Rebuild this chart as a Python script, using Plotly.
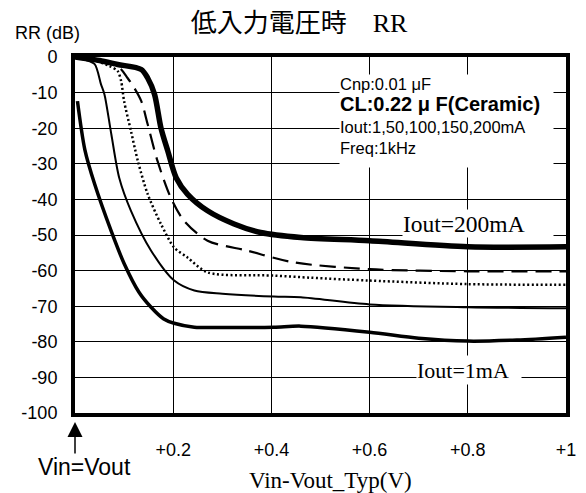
import plotly.graph_objects as go

# ---- data ----
x_1mA = [0.005, 0.02, 0.04, 0.074, 0.1, 0.13, 0.155, 0.18, 0.202, 0.243, 0.3, 0.405, 0.46, 0.6, 0.7, 0.8, 0.9, 1.0]
y_1mA = [-12.4, -26, -35.7, -49, -58, -66, -70.3, -73.5, -74.8, -75.9, -76, -75.9, -75.6, -77.3, -79, -79.8, -79.5, -78.7]

x_50mA = [0, 0.02, 0.04, 0.053, 0.06, 0.074, 0.09, 0.114, 0.155, 0.202, 0.243, 0.3, 0.405, 0.46, 0.6, 0.8, 1.0]
y_50mA = [0, -0.8, -2, -7.7, -10.5, -21.7, -33.9, -43.2, -54.4, -62.8, -65.6, -66.5, -67.3, -67.5, -69.5, -70.3, -70.6]

x_100mA = [0, 0.04, 0.07, 0.087, 0.094, 0.1, 0.114, 0.128, 0.148, 0.175, 0.202, 0.229, 0.27, 0.405, 0.48, 0.6, 0.8, 1.0]
y_100mA = [0, -1, -2.5, -4, -6.8, -12.4, -20.8, -29.2, -38.5, -46.9, -53.5, -56.3, -60.5, -61.4, -62, -62.8, -63.8, -64]

x_150mA = [0, 0.05, 0.09, 0.107, 0.12, 0.135, 0.148, 0.168, 0.195, 0.222, 0.27, 0.351, 0.446, 0.6, 0.8, 1.0]
y_150mA = [0, -1, -3, -5.9, -8.5, -12.4, -18.9, -29.2, -39.5, -46, -51.6, -54.4, -57.7, -59.6, -60.2, -60.2]

x_200mA = [0, 0.05, 0.087, 0.135, 0.148, 0.162, 0.175, 0.189, 0.206, 0.229, 0.27, 0.324, 0.378, 0.46, 0.6, 0.8, 1.0]
y_200mA = [0, -1, -2.1, -3.5, -5.9, -10.5, -19.9, -26.4, -33.9, -38.5, -43.2, -46.9, -49.3, -50.7, -51.6, -53.3, -53.3]

x_tickvals = [0.2, 0.4, 0.6, 0.8, 1.0]
x_ticktext = ["+0.2", "+0.4", "+0.6", "+0.8", "+1"]
y_tickvals = [0, -10, -20, -30, -40, -50, -60, -70, -80, -90, -100]
y_ticktext = ["0", "-10", "-20", "-30", "-40", "-50", "-60", "-70", "-80", "-90", "-100"]

SANS = "Liberation Sans, Arial, sans-serif"
SERIF = "Liberation Serif, Times New Roman, serif"
CJK = "Noto Sans CJK JP"

series = [
    (x_1mA, y_1mA, dict(color="black", width=3.5)),
    (x_50mA, y_50mA, dict(color="black", width=2)),
    (x_100mA, y_100mA, dict(color="black", width=2.5, dash="2px,2.5px")),
    (x_150mA, y_150mA, dict(color="black", width=2.2, dash="16px,8px")),
    (x_200mA, y_200mA, dict(color="black", width=5.5)),
]

fig = go.Figure()
for xs, ys, ln in series:
    fig.add_trace(go.Scatter(x=xs, y=ys, mode="lines", line=dict(shape="spline", smoothing=0.8, **ln),
                             showlegend=False, hoverinfo="skip"))

# page has an 8px body margin; plot area on screen: x 75..566, y 57..413
OFF = 8
L, R, T, B = 75 - OFF, 566 - OFF, 57 - OFF, 413 - OFF
W, H = 586, 493
PW, PH = R - L, B - T


def px(sx):
    return (sx - OFF - L) / PW


def py(sy):
    return (B - (sy - OFF)) / PH


fig.update_layout(
    width=W, height=H,
    margin=dict(l=L, r=W - R, t=T, b=H - B, autoexpand=False),
    paper_bgcolor="white", plot_bgcolor="white",
    title=dict(text="低入力電圧時　<span style='font-family:Liberation Serif'>RR</span>",
               font=dict(family=CJK, size=26, color="black"),
               xref="container", x=(299 - OFF) / W, xanchor="center",
               yref="container", y=1 - (23 - OFF) / H, yanchor="middle"),
    xaxis=dict(range=[0, 1], tickvals=x_tickvals, ticktext=x_ticktext,
               showgrid=True, gridcolor="black", gridwidth=1,
               showline=True, linecolor="black", linewidth=4, mirror=True,
               ticks="", ticklabelstandoff=17, zeroline=False, automargin=False,
               tickfont=dict(family=SANS, size=18, color="black")),
    yaxis=dict(range=[-100, 0], tickvals=y_tickvals, ticktext=y_ticktext,
               showgrid=True, gridcolor="black", gridwidth=1,
               showline=True, linecolor="black", linewidth=4, mirror=True,
               ticks="", ticklabelstandoff=10, zeroline=False, automargin=False,
               tickfont=dict(family=SANS, size=18, color="black")),
)

ann = [
    dict(text="RR (dB)", xref="paper", yref="paper", x=px(47), y=py(33), showarrow=False,
         font=dict(family=SANS, size=18, color="black"), xanchor="center", yanchor="middle"),
    dict(text="Vin-Vout_Typ(V)", xref="paper", yref="paper", x=px(330), y=py(480), showarrow=False,
         font=dict(family=SERIF, size=23, color="black"), xanchor="center", yanchor="middle"),
    dict(text="Vin=Vout", xref="paper", yref="paper", x=px(84.5), y=py(467),
         showarrow=False, font=dict(family=SANS, size=23, color="black"),
         xanchor="center", yanchor="middle"),
    dict(text="", xref="x", yref="paper", x=0, y=py(422), showarrow=True,
         ax=0, ay=33, arrowhead=2, arrowsize=2, arrowwidth=1.5, arrowcolor="black"),
    dict(text="Cnp:0.01 μF<br><b><span style='font-size:20px'>CL:0.22 μ F(Ceramic)</span></b>"
              "<br>Iout:1,50,100,150,200mA<br>Freq:1kHz",
         xref="paper", yref="paper", x=px(446.5), y=py(121),
         xanchor="center", yanchor="middle", showarrow=False, width=213, height=92,
         align="left", valign="top", bgcolor="white", borderpad=0,
         font=dict(family=SANS, size=16.5, color="black")),
    dict(text="Iout=200mA", xref="paper", yref="paper", x=px(478), y=py(223),
         xanchor="center", yanchor="middle", showarrow=False, width=150, height=27,
         align="left", valign="middle", bgcolor="white", borderpad=0,
         font=dict(family=SERIF, size=23.5, color="black")),
    dict(text="Iout=1mA", xref="paper", yref="paper", x=px(469), y=py(370),
         xanchor="center", yanchor="middle", showarrow=False, width=104, height=28,
         align="left", valign="middle", bgcolor="white", borderpad=0,
         font=dict(family=SERIF, size=22, color="black")),
]
fig.update_layout(annotations=ann)

fig.write_html("out.html")
